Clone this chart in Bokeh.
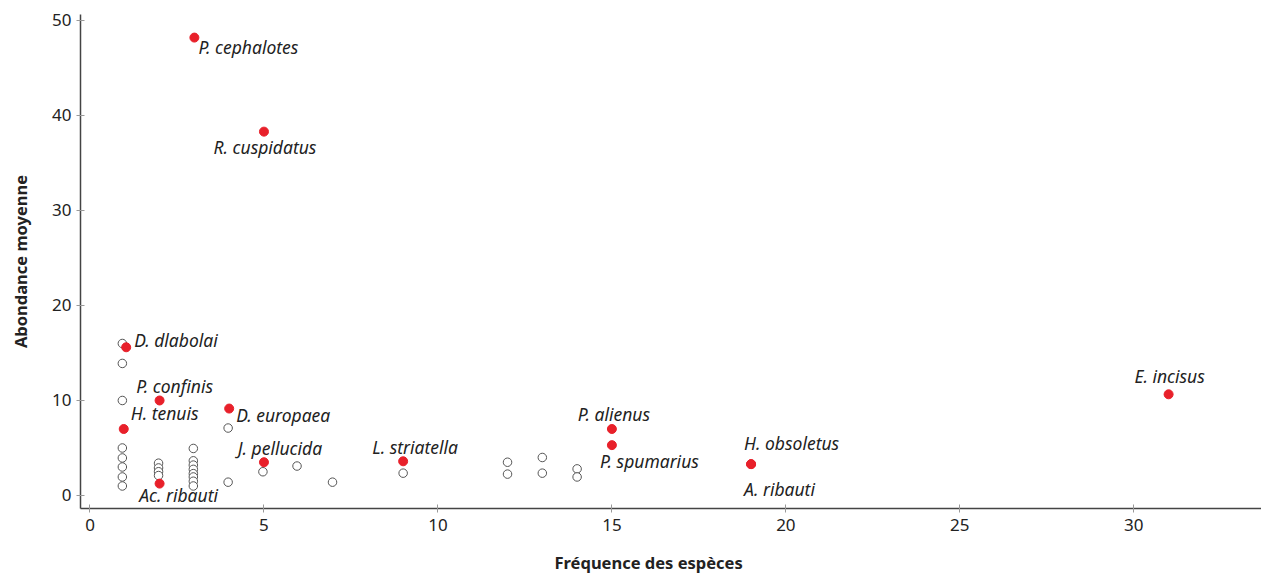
from bokeh.plotting import figure
from bokeh.models import ColumnDataSource, Range1d, FixedTicker, LabelSet, Title
from bokeh.core.properties import value
from bokeh.embed import file_html
from bokeh.resources import INLINE

# ---- data ----
species = ["P. cephalotes", "R. cuspidatus", "D. dlabolai", "P. confinis", "H. tenuis",
           "D. europaea", "J. pellucida", "Ac. ribauti", "L. striatella", "P. alienus",
           "P. spumarius", "H. obsoletus", "A. ribauti", "E. incisus"]
species_freq = [3, 5, 1.04, 2, 0.97, 4, 5, 2, 9, 15, 15, 19, 19, 31]
species_abund = [48.2, 38.3, 15.6, 10.0, 7.0, 9.15, 3.5, 1.25, 3.6, 7.0, 5.3, 3.3, 3.3, 10.65]

other_freq = [0.93] * 8 + [1.97] * 4 + [2.97] * 8 + [3.97] * 2 + [4.97, 5.95, 6.97, 9.0]
other_freq += [12, 12, 13, 13, 14, 14]
other_abund = [16.0, 13.9, 10.0, 5.0, 3.95, 3.0, 1.95, 1.0,
               3.4, 2.9, 2.5, 2.1,
               4.95, 3.65, 3.2, 2.75, 2.3, 1.95, 1.5, 1.0,
               7.1, 1.4,
               2.5, 3.1, 1.4, 2.35,
               3.5, 2.25, 4.0, 2.35, 2.8, 1.95]

x_ticks = [0, 5, 10, 15, 20, 25, 30]
y_ticks = [0, 10, 20, 30, 40, 50]

# ---- label placement (pixels, layout only; positive dy = up) ----
lab_dx = [4, 1, 8, 15, 7, 7, 16, 19, 12, 2, -12, -7, -7, 1]
lab_dy = [-9, -15, 7, 14, 16, -6, 14, -11, 14, 15, -16, 21, -25, 18]
lab_align = ["left", "center", "left", "center", "left", "left", "center", "center",
             "center", "center", "left", "left", "left", "center"]

FONT = "Noto Sans"

p = figure(frame_width=1181, frame_height=494,
           min_border_left=80, min_border_right=0, min_border_top=14, min_border_bottom=58,
           x_range=Range1d(-0.273, 33.67), y_range=Range1d(-1.37, 50.63),
           output_backend="svg", toolbar_location=None)
p.outline_line_color = None
p.xgrid.visible = False
p.ygrid.visible = False
p.background_fill_color = "white"

other_src = ColumnDataSource(dict(x=other_freq, y=other_abund))
p.scatter("x", "y", source=other_src, size=8.5, fill_color="white",
          line_color="#555555", line_width=1)

sp_src = ColumnDataSource(dict(x=species_freq, y=species_abund, name=species,
                               dx=lab_dx, dy=lab_dy, align=lab_align))
p.scatter("x", "y", source=sp_src, size=9, fill_color="#e8202a", line_color="#e8202a")

labels = LabelSet(x="x", y="y", text="name", source=sp_src, x_offset="dx", y_offset="dy",
                  text_align="align", text_baseline="middle",
                  text_font=value(FONT), text_font_style="italic", text_font_size="17.5px",
                  text_color="#222222")
p.add_layout(labels)

for ax in (p.xaxis[0], p.yaxis[0]):
    ax.axis_line_color = "#444444"
    ax.axis_line_width = 1.5
    ax.major_tick_line_color = "#999999"
    ax.major_tick_in = 4
    ax.major_tick_out = 4
    ax.minor_tick_line_color = None
    ax.major_label_text_font = FONT
    ax.major_label_text_font_size = "17px"
    ax.major_label_text_color = "#222222"
    ax.axis_label_text_font = FONT
    ax.axis_label_text_font_style = "bold"
    ax.axis_label_text_font_size = "16.5px"
    ax.axis_label_text_color = "#222222"

p.xaxis.ticker = FixedTicker(ticks=x_ticks)
p.yaxis.ticker = FixedTicker(ticks=y_ticks)
p.yaxis.axis_label = "Abondance moyenne"
p.xaxis.major_label_standoff = 6
p.yaxis.major_label_standoff = 5
p.yaxis.axis_label_standoff = 17

xtitle = Title(text="Fréquence des espèces", align="left", offset=474,
               text_font=FONT, text_font_style="bold", text_font_size="16.5px",
               text_color="#222222", standoff=30)
p.add_layout(xtitle, "below")

open("out.html", "w").write(file_html(p, INLINE))
